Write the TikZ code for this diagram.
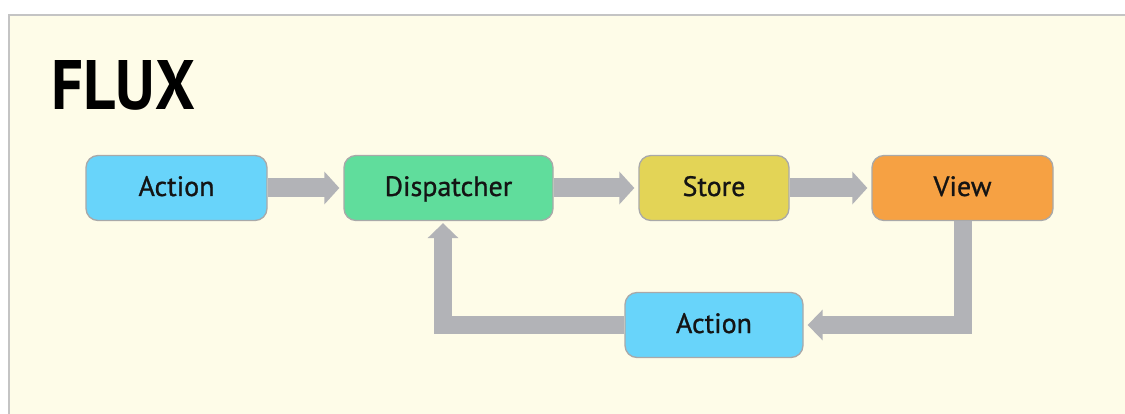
\documentclass[tikz,border=0pt]{standalone}
\usepackage{fontspec}
\setmainfont{PT Sans}
\newfontfamily\boxfont[FakeBold=0.9]{PT Sans}
\newfontfamily\titlefont[FakeStretch=0.9]{PT Sans Bold}
\usetikzlibrary{arrows.meta,calc}
\definecolor{cream}{HTML}{FEFCE8}
\definecolor{panelline}{HTML}{C4C4C4}
\definecolor{flowgray}{HTML}{B2B3B7}
\definecolor{boxline}{HTML}{A9A9A9}
\definecolor{cblue}{HTML}{68D4FA}
\definecolor{cgreen}{HTML}{60DD9C}
\definecolor{cyellow}{HTML}{E3D456}
\definecolor{corange}{HTML}{F6A143}
\definecolor{txt}{HTML}{141414}
\tikzset{
  fbox/.style={draw=boxline, line width=1.3pt, rounded corners=12pt, inner sep=0pt,
    font=\boxfont\fontsize{28}{30}\selectfont, text=txt, minimum height=65pt,
    text height=16pt, text depth=0pt},
  flow/.style={draw=flowgray, line width=19pt, line join=miter,
    -{Triangle[length=15pt,width=32pt]}},
  flowv/.style={draw=flowgray, line width=18pt, line join=miter,
    -{Triangle[length=15pt,width=30pt]}},
}
\begin{document}
\begin{tikzpicture}[x=1pt,y=-1pt]
\useasboundingbox (0,0) rectangle (1125,414);
\fill[white] (0,0) rectangle (1125,414);
\fill[cream] (8,14) rectangle (1125,414);
\draw[panelline, line width=2pt] (9,414) -- (9,15) -- (1125,15);
\node[anchor=base west, font=\titlefont\fontsize{70}{72}\selectfont, text=black, inner sep=0pt] (title) at (51,110) {FLUX};
\node[fbox, fill=cblue, minimum width=181pt] (a1) at (176.5,188) {Action};
\node[fbox, fill=cgreen, minimum width=209pt] (d) at (448.5,188) {Dispatcher};
\node[fbox, fill=cyellow, minimum width=150pt] (s) at (714,188) {Store};
\node[fbox, fill=corange, minimum width=181pt] (v) at (962.5,188) {View};
\node[fbox, fill=cblue, minimum width=178pt] (a2) at (714,325) {Action};
\coordinate (dbot) at ($(d.south)+(-5.5,0)$);
\draw[flow, shorten >=4pt] (a1.east) -- (d.west);
\draw[flow, shorten >=4pt] (d.east) -- (s.west);
\draw[flow, shorten >=4pt] (s.east) -- (v.west);
\draw[flowv, shorten >=4pt] (v.south) |- (a2.east);
\draw[flowv, shorten >=2pt] (a2.west) -| (dbot);
\end{tikzpicture}
\end{document}
